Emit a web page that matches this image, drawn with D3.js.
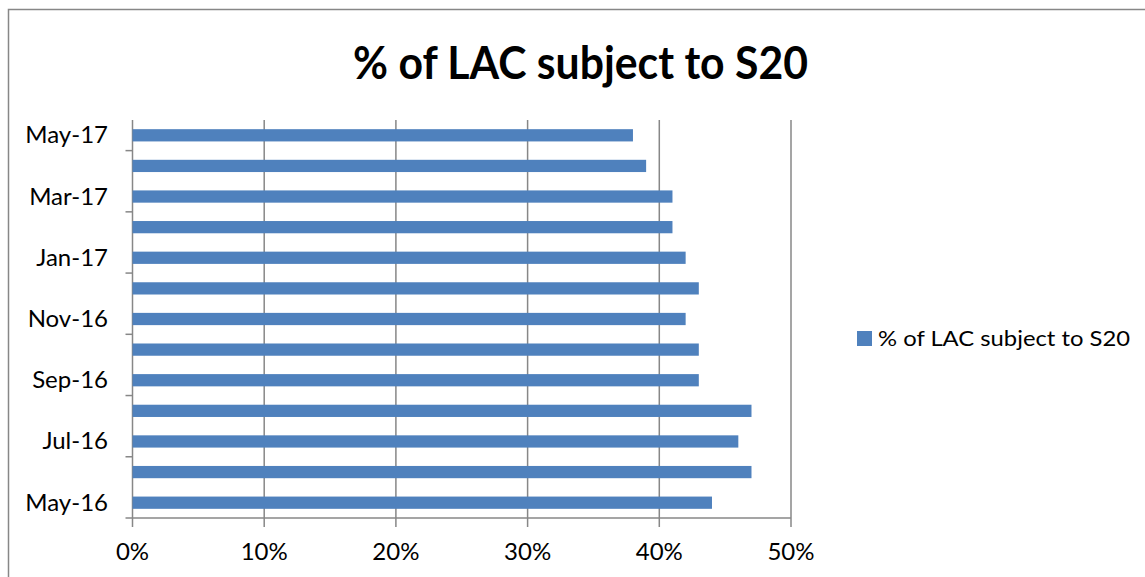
<!DOCTYPE html>
<html>
<head>
<meta charset="utf-8">
<script src="https://cdn.jsdelivr.net/npm/d3@7/dist/d3.min.js"></script>
<style>
  html, body { margin: 0; padding: 0; background: #fff; }
  svg { display: block; }
  text { font-family: Lato, "Open Sans", sans-serif; fill: #000; }
</style>
</head>
<body>
<svg id="chart" width="1145" height="577"></svg>
<script>
// Monthly share of looked-after children subject to S20
const months = ["May-16", "Jun-16", "Jul-16", "Aug-16", "Sep-16", "Oct-16", "Nov-16",
                "Dec-16", "Jan-17", "Feb-17", "Mar-17", "Apr-17", "May-17"];
const shareS20 = [44, 47, 46, 47, 43, 43, 42, 43, 42, 41, 41, 39, 38];
const xTicks = [0, 10, 20, 30, 40, 50];
const titleText = "% of LAC subject to S20";
const seriesName = "% of LAC subject to S20";

const W = 1145, H = 577;
const plot = { left: 132.5, right: 791, top: 120, bottom: 518 };
const barColor = "#4F81BD";
const lineColor = "#878787";

const svg = d3.select("#chart");

// outer chart border (only top and left edges fall inside the frame)
svg.append("rect")
  .attr("x", 8.5).attr("y", 9.5)
  .attr("width", W + 20).attr("height", H + 20)
  .attr("fill", "#fff")
  .attr("stroke", lineColor).attr("stroke-width", 1.5);

const x = d3.scaleLinear().domain([0, 50]).range([plot.left, plot.right]);
const y = d3.scaleBand()
  .domain(months)
  .range([plot.bottom, plot.top])
  .paddingInner(0.6)
  .paddingOuter(0.3);

// vertical gridlines, extended below the axis as tick marks
svg.append("g").selectAll("line")
  .data(xTicks)
  .join("line")
  .attr("x1", d => x(d)).attr("x2", d => x(d))
  .attr("y1", plot.top).attr("y2", plot.bottom + 9)
  .attr("stroke", lineColor).attr("stroke-width", 1.5);

// bars
svg.append("g").selectAll("rect")
  .data(months.map((m, i) => ({ m, v: shareS20[i] })))
  .join("rect")
  .attr("x", x(0))
  .attr("y", d => y(d.m))
  .attr("width", d => x(d.v) - x(0))
  .attr("height", y.bandwidth())
  .attr("fill", barColor);

// horizontal axis line
svg.append("line")
  .attr("x1", plot.left - 7).attr("x2", plot.right)
  .attr("y1", plot.bottom).attr("y2", plot.bottom)
  .attr("stroke", lineColor).attr("stroke-width", 1.5);

// category axis: ticks between every second category, labels on every second category
const step = y.step();
const tickYs = months.map((m, i) => i).filter(i => i % 2 === 0 && i > 0)
  .map(i => plot.bottom - i * step);
svg.append("g").selectAll("line")
  .data(tickYs)
  .join("line")
  .attr("x1", plot.left - 7).attr("x2", plot.left)
  .attr("y1", d => d).attr("y2", d => d)
  .attr("stroke", lineColor).attr("stroke-width", 1.5);

svg.append("g").selectAll("text")
  .data(months.filter((m, i) => i % 2 === 0))
  .join("text")
  .attr("x", 108)
  .attr("y", d => y(d) + y.bandwidth() / 2 + 8)
  .attr("text-anchor", "end")
  .attr("font-size", 24)
  .text(d => d);

// value axis labels
svg.append("g").selectAll("text")
  .data(xTicks)
  .join("text")
  .attr("x", d => x(d))
  .attr("y", 560)
  .attr("text-anchor", "middle")
  .attr("font-size", 24)
  .text(d => d + "%");

// title
svg.append("text")
  .attr("x", 353).attr("y", 79)
  .attr("font-size", 46)
  .attr("font-weight", "bold")
  .attr("textLength", 455)
  .attr("lengthAdjust", "spacingAndGlyphs")
  .text(titleText);

// legend
svg.append("rect")
  .attr("x", 857).attr("y", 331)
  .attr("width", 15).attr("height", 15)
  .attr("fill", barColor);
svg.append("text")
  .attr("x", 878).attr("y", 345.5)
  .attr("font-size", 22)
  .attr("textLength", 252)
  .attr("lengthAdjust", "spacingAndGlyphs")
  .text(seriesName);
</script>
</body>
</html>
